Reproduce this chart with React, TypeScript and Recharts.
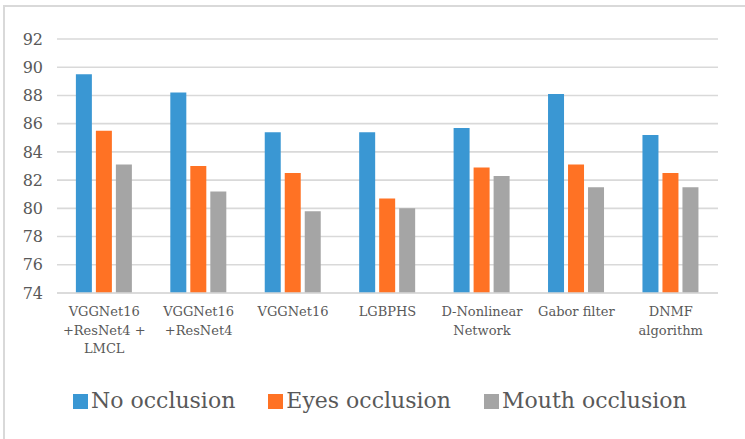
import React from 'react';
import { BarChart, Bar, XAxis, YAxis, CartesianGrid, Legend } from 'recharts';

const categories = [
  'VGGNet16\n+ResNet4 +\nLMCL',
  'VGGNet16\n+ResNet4',
  'VGGNet16',
  'LGBPHS',
  'D-Nonlinear\nNetwork',
  'Gabor filter',
  'DNMF\nalgorithm',
];
const noOcclusion = [89.5, 88.2, 85.4, 85.4, 85.7, 88.1, 85.2];
const eyesOcclusion = [85.5, 83.0, 82.5, 80.7, 82.9, 83.1, 82.5];
const mouthOcclusion = [83.1, 81.2, 79.8, 80.0, 82.3, 81.5, 81.5];
const yTicks = [74, 76, 78, 80, 82, 84, 86, 88, 90, 92];

const seriesNames = ['No occlusion', 'Eyes occlusion', 'Mouth occlusion'];
const seriesColors = ['#3A97D3', '#FF7224', '#A5A5A5'];

const data = categories.map((c, i) => ({
  name: c,
  no: noOcclusion[i],
  eyes: eyesOcclusion[i],
  mouth: mouthOcclusion[i],
}));

const FONT = 'DejaVu Serif';

const XTick = (props: any) => {
  const { x, y, payload } = props;
  const lines = String(payload.value).split('\n');
  return (
    <g>
      {lines.map((l: string, i: number) => (
        <text
          key={i}
          x={x}
          y={y + 23 + i * 18.5}
          textAnchor="middle"
          style={{ fontFamily: FONT, fontSize: 13 }}
          fill="#595959"
        >
          {l}
        </text>
      ))}
    </g>
  );
};

const LegendContent = () => (
  <div style={{ display: 'flex', alignItems: 'center', fontFamily: FONT, whiteSpace: 'nowrap', width: 700 }}>
    {seriesNames.map((n, i) => (
      <div key={n} style={{ display: 'flex', alignItems: 'center', marginRight: 33, flexShrink: 0 }}>
        <div style={{ width: 15, height: 15, background: seriesColors[i], marginRight: 3, flexShrink: 0 }} />
        <span style={{ fontSize: 22, color: '#595959', lineHeight: '30px', whiteSpace: 'nowrap' }}>{n}</span>
      </div>
    ))}
  </div>
);

export default function App() {
  return (
    <div style={{ position: 'absolute', left: 0, top: 0, width: 745, height: 439, background: '#fff' }}>
      <div
        style={{
          position: 'absolute',
          left: 3,
          top: 5,
          right: 0,
          bottom: 0,
          borderLeft: '2px solid #D9D9D9',
          borderTop: '2px solid #D9D9D9',
        }}
      />
      <div style={{ position: 'absolute', left: 0, top: 0 }}>
        <BarChart
          width={745}
          height={439}
          data={data}
          margin={{ top: 39, right: 27, left: 0, bottom: 86 }}
          barCategoryGap="20%"
          barGap={4}
        >
          <CartesianGrid vertical={false} stroke="#D9D9D9" strokeWidth={1.6} />
          <XAxis
            dataKey="name"
            interval={0}
            height={60}
            tickLine={false}
            tickSize={0}
            tickMargin={0}
            axisLine={{ stroke: '#D9D9D9', strokeWidth: 1.6 }}
            tick={<XTick />}
          />
          <YAxis
            domain={[74, 92]}
            ticks={yTicks}
            width={57}
            axisLine={false}
            tickLine={false}
            tickSize={0}
            tickMargin={14}
            tick={{ fontFamily: FONT, fontSize: 16, fill: '#595959' }}
          />
          <Legend
            layout="horizontal"
            verticalAlign="middle"
            align="center"
            wrapperStyle={{ left: 73, top: 386, width: 700 }}
            content={<LegendContent />}
          />
          <Bar dataKey="no" name={seriesNames[0]} fill={seriesColors[0]} isAnimationActive={false} />
          <Bar dataKey="eyes" name={seriesNames[1]} fill={seriesColors[1]} isAnimationActive={false} />
          <Bar dataKey="mouth" name={seriesNames[2]} fill={seriesColors[2]} isAnimationActive={false} />
        </BarChart>
      </div>
    </div>
  );
}
